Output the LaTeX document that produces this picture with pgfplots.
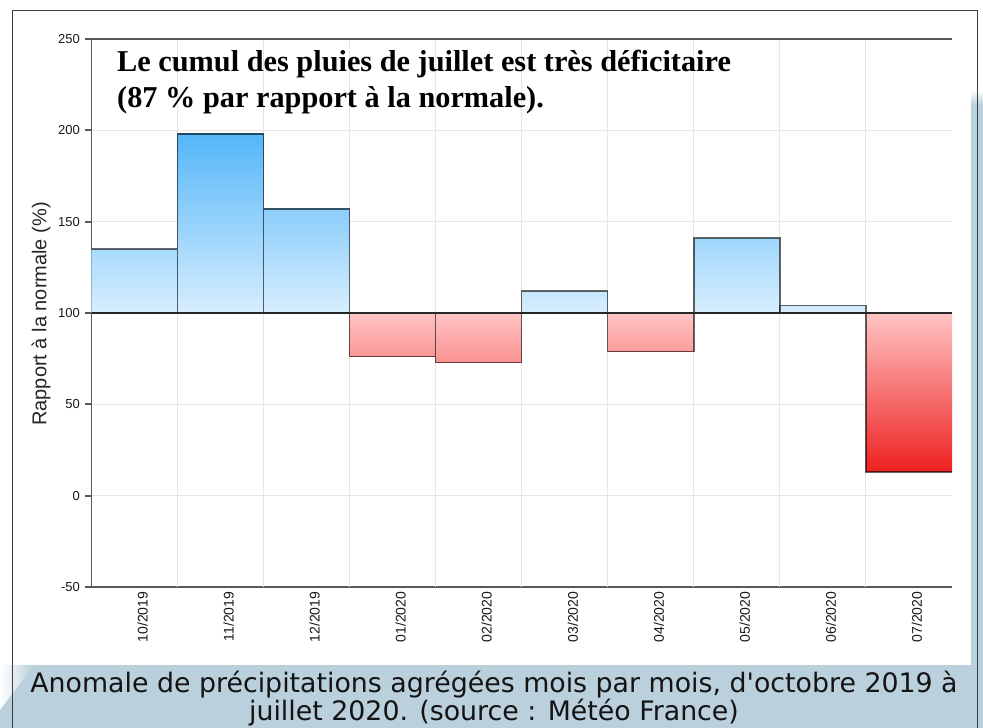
\documentclass[border=0pt]{standalone}
\usepackage{fontspec}
\setmainfont{Liberation Sans}
\newfontfamily\serifb[Ligatures={NoCommon}]{Liberation Serif}
\newfontfamily\capfont{DejaVu Sans}
\usepackage{pgfplots}
\pgfplotsset{compat=1.18}
\definecolor{bandc}{RGB}{186,208,220}
\definecolor{blueLo}{RGB}{215,238,254}
\definecolor{blueHi}{RGB}{82,181,248}
\definecolor{redLo}{RGB}{255,196,196}
\definecolor{redHi}{RGB}{238,32,32}
\definecolor{axgray}{RGB}{88,88,88}
\definecolor{gridc}{RGB}{230,230,230}
\definecolor{framec}{RGB}{60,60,60}
\colorlet{cA}{blueHi!35!blueLo}
\colorlet{cB}{blueHi!98!blueLo}
\colorlet{cC}{blueHi!57!blueLo}
\colorlet{cD}{redHi!28!redLo}
\colorlet{cE}{redHi!31!redLo}
\colorlet{cF}{blueHi!12!blueLo}
\colorlet{cG}{redHi!24!redLo}
\colorlet{cH}{blueHi!41!blueLo}
\colorlet{cI}{blueHi!4!blueLo}
\colorlet{cJ}{redHi!100!redLo}
\begin{document}
\begin{tikzpicture}[x=1pt,y=1pt]
% background
\fill[white] (0,0) rectangle (983,728);
\fill[bandc] (0,0) rectangle (983,63);
\fill[bandc] (971,0) rectangle (983,623);
\shade[top color=white, bottom color=bandc] (971,623) rectangle (983,638);
\shade[left color=white, right color=bandc] (0,63) -- (34,63) -- (0,18) -- cycle;
\draw[framec, line width=1pt] (12,0) -- (12,717) -- (977,717) -- (977,0);
% axis
\begin{axis}[
  at={(91.5pt,141pt)}, anchor=south west,
  scale only axis, width=860.5pt, height=548pt,
  xmin=0, xmax=10, ymin=-50, ymax=250,
  axis lines*=left,
  axis line style={axgray, line width=1.8pt, -},
  ytick={-50,0,50,100,150,200,250},
  yticklabels={-50,0,50,100,150,200,250},
  ytick pos=left, tick align=outside,
  major tick length=6.5pt,
  every tick/.style={axgray, line width=1.8pt},
  xtick={0.5,1.5,2.5,3.5,4.5,5.5,6.5,7.5,8.5,9.5},
  xticklabels={10/2019,11/2019,12/2019,01/2020,02/2020,03/2020,04/2020,05/2020,06/2020,07/2020},
  xtick style={draw=none},
  extra x ticks={1,2,3,4,5,6,7,8,9},
  extra x tick labels={},
  extra x tick style={grid=major, xtick style={draw=none}},
  ymajorgrids,
  major grid style={gridc, line width=1pt},
  y tick label style={anchor=east, inner sep=0pt, xshift=-5pt, font=\fontsize{13}{13}\selectfont, text=black!90},
  x tick label style={rotate=90, anchor=east, inner sep=0pt, yshift=-8pt, xshift=2pt, font=\fontsize{14}{14}\selectfont, text=black!90},
  bar/.style={draw=black, draw opacity=0.6, line width=1.3pt},
  extra description/.code={\draw[axgray, line width=1.8pt] (0,1) -- (1,1);},
]
\addplot[bar, top color=cA, bottom color=blueLo] coordinates {(0,100) (0,135) (1,135) (1,100)} -- cycle;
\addplot[bar, top color=cB, bottom color=blueLo] coordinates {(1,100) (1,198) (2,198) (2,100)} -- cycle;
\addplot[bar, top color=cC, bottom color=blueLo] coordinates {(2,100) (2,157) (3,157) (3,100)} -- cycle;
\addplot[bar, top color=redLo, bottom color=cD] coordinates {(3,100) (3,76) (4,76) (4,100)} -- cycle;
\addplot[bar, top color=redLo, bottom color=cE] coordinates {(4,100) (4,73) (5,73) (5,100)} -- cycle;
\addplot[bar, top color=cF, bottom color=blueLo] coordinates {(5,100) (5,112) (6,112) (6,100)} -- cycle;
\addplot[bar, top color=redLo, bottom color=cG] coordinates {(6,100) (6,79) (7,79) (7,100)} -- cycle;
\addplot[bar, top color=cH, bottom color=blueLo] coordinates {(7,100) (7,141) (8,141) (8,100)} -- cycle;
\addplot[bar, top color=cI, bottom color=blueLo] coordinates {(8,100) (8,104) (9,104) (9,100)} -- cycle;
\addplot[bar, top color=redLo, bottom color=cJ] coordinates {(10,100) (9,100) (9,13) (10,13)};
\addplot[draw=black!85, line width=1.3pt] coordinates {(0,100) (10,100)};
\end{axis}
% y label
\node[rotate=90, font=\fontsize{20}{20}\selectfont, text=black!85] at (41,414) {Rapport à la normale (\%)};
% title
\node[anchor=base west, inner sep=0pt, font=\serifb\bfseries\fontsize{30.3}{30.3}\selectfont] at (117,656) {Le cumul des pluies de juillet est très déficitaire};
\node[anchor=base west, inner sep=0pt, font=\serifb\bfseries\fontsize{30.3}{30.3}\selectfont] at (117,620) {(87 \% par rapport à la normale).};
% caption
\node[anchor=base, inner sep=0pt, font=\capfont\fontsize{26.8}{26.8}\selectfont, text=black!92] at (494,35) {Anomale de précipitations agrégées mois par mois, d'octobre 2019 à};
\node[anchor=base, inner sep=0pt, font=\capfont\fontsize{26.8}{26.8}\selectfont, text=black!92] at (494,7) {juillet 2020. (source : Météo France)};
\pgfresetboundingbox
\useasboundingbox (0,0) rectangle (983,728);
\end{tikzpicture}
\end{document}
